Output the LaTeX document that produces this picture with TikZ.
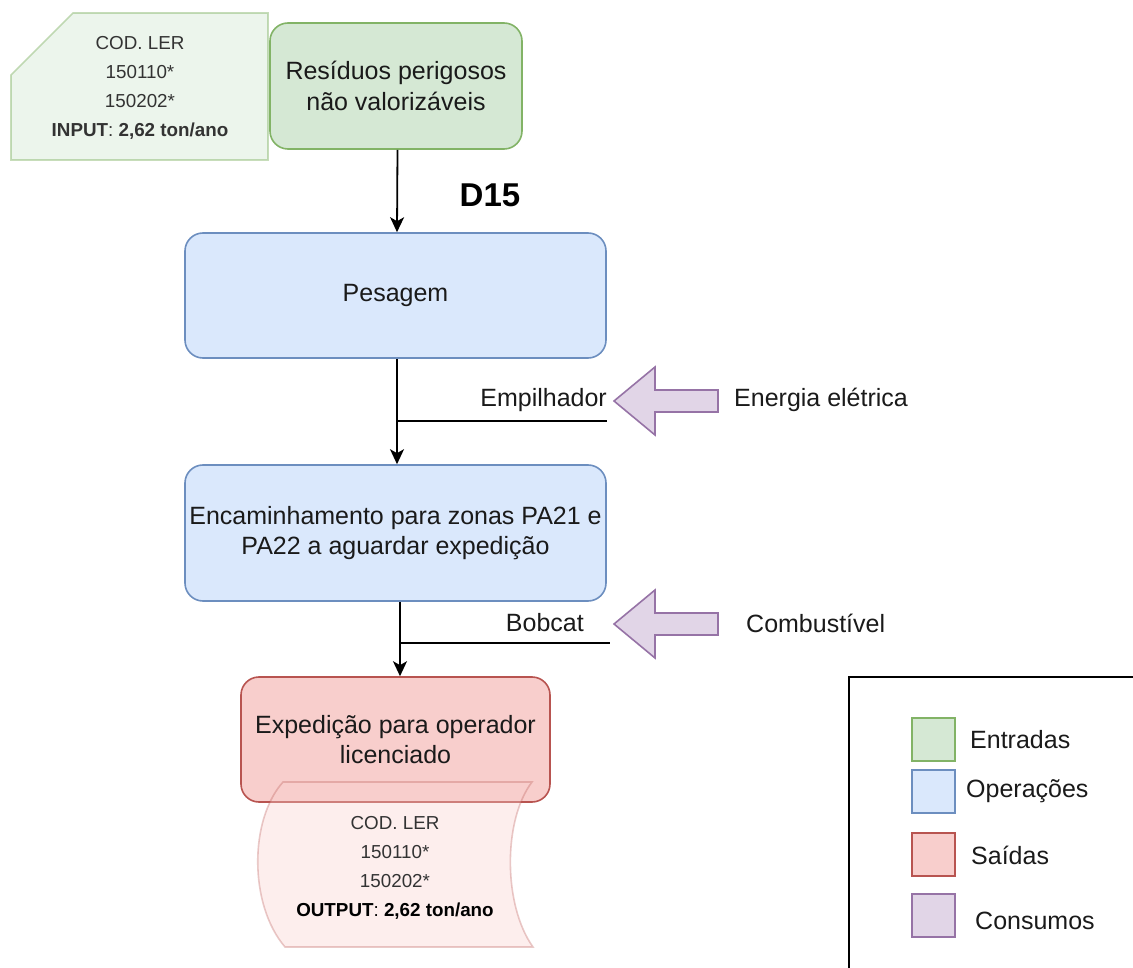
\documentclass[tikz,border=0pt]{standalone}
\usepackage{fontspec}
\setmainfont{Liberation Sans}
\usetikzlibrary{arrows.meta}
\definecolor{gF}{HTML}{D5E8D4}\definecolor{gS}{HTML}{82B366}
\definecolor{bF}{HTML}{DAE8FC}\definecolor{bS}{HTML}{6C8EBF}
\definecolor{rF}{HTML}{F8CECC}\definecolor{rS}{HTML}{B85450}
\definecolor{pF}{HTML}{E1D5E7}\definecolor{pS}{HTML}{9673A6}
\definecolor{txt}{HTML}{1A1A1A}\definecolor{stxt}{HTML}{333333}
\newcommand\fmain{\fontsize{25}{30.5}\selectfont}
\newcommand\fsmall{\fontsize{18.8}{29.2}\selectfont}
\tikzset{
  box/.style={rounded corners=18pt, line width=1.6pt, align=center, inner sep=0pt, font=\fmain, text=txt},
  greenbox/.style={box, fill=gF, draw=gS},
  bluebox/.style={box, fill=bF, draw=bS},
  redbox/.style={box, fill=rF, draw=rS},
  arr/.style={line width=1.8pt, -{Stealth[length=15pt,width=14pt,inset=4pt]}},
  conn/.style={line width=1.8pt},
  cons/.style={fill=pF, draw=pS, line width=1.6pt, line join=miter},
  lbl/.style={font=\fmain, text=txt, inner sep=0pt},
  small/.style={font=\fsmall, text=stxt, align=center, inner sep=0pt},
  legsq/.style={line width=1.6pt, minimum width=43pt, minimum height=43pt, inner sep=0pt},
}
\begin{document}
\begin{tikzpicture}[x=1pt,y=-1pt]
\useasboundingbox (0,0) rectangle (1133,968);
% input card
\draw[fill=gF, fill opacity=0.45, draw=gS, draw opacity=0.45, line width=1.6pt]
  (11,75) -- (73,13) -- (268,13) -- (268,160) -- (11,160) -- cycle;
\node[small] (card) at (140,88) {COD. LER\\150110*\\150202*\\\textbf{INPUT}: \textbf{2,62 ton/ano}};
% boxes
\node[greenbox, minimum width=252pt, minimum height=126pt] (res) at (396,86) {Resíduos perigosos\\não valorizáveis};
\node[bluebox, minimum width=421pt, minimum height=125pt] (pes) at (395.5,295.5) {Pesagem};
\node[bluebox, minimum width=421pt, minimum height=136pt] (enc) at (395.5,533) {Encaminhamento para zonas PA21 e\\PA22 a aguardar expedição};
\node[redbox, minimum width=309pt, minimum height=125pt] (exp) at (395.5,739.5) {Expedição para operador\\licenciado};
% output tape
\draw[fill=rF, fill opacity=0.35, draw=rS, draw opacity=0.3, line width=1.6pt]
  (283,782) -- (532,782) .. controls (503,820) and (503,905) .. (533,947)
  -- (285,947) .. controls (249,905) and (249,820) .. (283,782) -- cycle;
\node[small] (tape) at (395,868) {COD. LER\\150110*\\150202*\\\textcolor{black}{\textbf{OUTPUT}: \textbf{2,62 ton/ano}}};
% D15
\node[font=\fontsize{33}{36}\selectfont\bfseries, inner sep=0pt] (d15) at (490,195) {D15};
% connectors
\draw[arr] ([xshift=1.5pt]res.south) -- ([xshift=1.5pt]pes.north);
\draw[arr] ([xshift=1.5pt]pes.south) -- ([xshift=1.5pt]enc.north);
\coordinate (j1) at (397,421);
\coordinate (e1) at (607,421);
\draw[conn] (j1) -- (e1);
\draw[arr] ([xshift=4.5pt]enc.south) -- ([xshift=4.5pt]exp.north);
\coordinate (j2) at (400,643);
\coordinate (e2) at (610,643);
\draw[conn] (j2) -- (e2);
% labels
\node[lbl, anchor=east] (emp) at (607,400) {Empilhador};
\node[lbl, anchor=east] (bob) at (584,623) {Bobcat};
\node[lbl, anchor=west] (ene) at (734,400) {Energia elétrica};
\node[lbl, anchor=west] (com) at (746,623) {Combustível};
% consumption arrows
\draw[cons] (614,401) -- (655,367) -- (655,390) -- (718,390) -- (718,412) -- (655,412) -- (655,435) -- cycle;
\draw[cons] (614,624) -- (655,590) -- (655,613) -- (718,613) -- (718,635) -- (655,635) -- (655,658) -- cycle;
% legend
\draw[line width=1.6pt] (849,677) rectangle (1160,1000);
\node[legsq, fill=gF, draw=gS] (lg) at (933.5,739.5) {};
\node[legsq, fill=bF, draw=bS] (lb) at (933.5,791.5) {};
\node[legsq, fill=rF, draw=rS] (lr) at (933.5,854.5) {};
\node[legsq, fill=pF, draw=pS] (lp) at (933.5,915.5) {};
\node[lbl, anchor=west] at (970,740) {Entradas};
\node[lbl, anchor=west] at (966,791) {Operações};
\node[lbl, anchor=west] at (971,855) {Saídas};
\node[lbl, anchor=west] at (975,921) {Consumos};
\end{tikzpicture}
\end{document}
